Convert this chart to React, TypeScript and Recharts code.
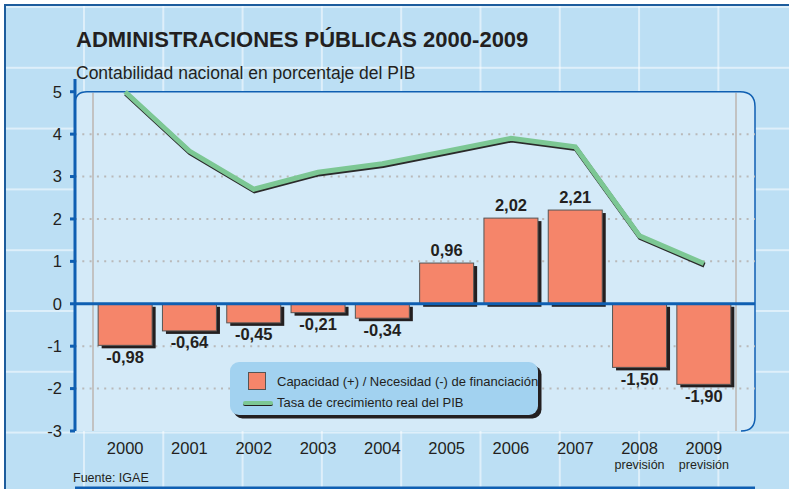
import React from 'react';
import { ComposedChart, Bar, Line, XAxis, YAxis, CartesianGrid, ReferenceArea, ReferenceLine, LabelList, Legend } from 'recharts';

// chart values
const years = ['2000', '2001', '2002', '2003', '2004', '2005', '2006', '2007', '2008', '2009'];
const yearNotes = ['', '', '', '', '', '', '', '', 'previsión', 'previsión'];
const balance = [-0.98, -0.64, -0.45, -0.21, -0.34, 0.96, 2.02, 2.21, -1.5, -1.9];
const gdpGrowth = [5.0, 3.6, 2.7, 3.1, 3.3, 3.6, 3.9, 3.7, 1.6, 0.95];
const yTicks = [-3, -2, -1, 0, 1, 2, 3, 4, 5];
const gridValues = [-2, -1, 1, 2, 3, 4];
const edgeTicks = [0, 1, 2, 3, 4, 5, 6, 7, 8, 9, 10];
const legendLabels = ['Capacidad (+) / Necesidad (-) de financiación', 'Tasa de crecimiento real del PIB'];

const data = years.map((year, i) => ({ year, balance: balance[i], growth: gdpGrowth[i] }));

const FONT = '"Liberation Sans", Arial, Helvetica, sans-serif';
const TEXT = '#231f20';
const BLUE = '#0f5fb2';
const BAR = '#f5856a';
const GREEN = '#7cc794';
const PANEL = '#d4eaf8';
const OUTER = '#bcdff4';
const LEGEND_BG = '#a2d2f0';
const PAD = { left: 18, right: 19 };

const fmt = (v: number) => v.toFixed(2).replace('.', ',');

const BarWithShadow = (props: any) => {
  const { x, y, width, height } = props;
  const top = Math.min(y, y + height);
  const h = Math.abs(height);
  return (
    <g>
      <rect x={x + 3.5} y={top + 3} width={width} height={h} fill={TEXT} />
      <rect x={x} y={top} width={width} height={h} fill={BAR} stroke="#555" strokeWidth={1} />
    </g>
  );
};

const ValueLabel = (props: any) => {
  const box = props.viewBox && props.viewBox.width != null ? props.viewBox : props;
  const { x, y, width, height } = box;
  const v = balance[props.index];
  const top = Math.min(y, y + height);
  const bottom = Math.max(y, y + height);
  const ty = v >= 0 ? top - 7 : bottom + 17.5;
  return (
    <text x={x + width / 2} y={ty} textAnchor="middle" fontSize={16.5} fontWeight="bold" fill={TEXT} fontFamily={FONT}>
      {fmt(v)}
    </text>
  );
};

const YearTick = (props: any) => {
  const { x, y, payload, index } = props;
  const i = payload && payload.index != null ? payload.index : index;
  return (
    <g>
      <text x={x} y={y} dy={23} textAnchor="middle" fontSize={16.5} fill={TEXT} fontFamily={FONT}>
        {payload.value}
      </text>
      {yearNotes[i] ? (
        <text x={x} y={y} dy={37.5} textAnchor="middle" fontSize={12.5} fill={TEXT} fontFamily={FONT}>
          {yearNotes[i]}
        </text>
      ) : null}
    </g>
  );
};

const EmptyTick = () => <g />;

// light panel behind the plot: rounded corners, blue edge on top and right,
// grey rules where the first and last category bands start / end
const Panel = (props: any) => {
  const { x, y, width, height } = props;
  const l = x - PAD.left, t = y, r = x + width + PAD.right, b = y + height;
  const r1 = 12, r2 = 15, r3 = 14;
  const fillPath = `M${l},${b} L${l},${t + r1} Q${l},${t} ${l + r1},${t} L${r - r2},${t} Q${r},${t} ${r},${t + r2} L${r},${b - r3} Q${r},${b} ${r - r3},${b} Z`;
  const edgePath = `M${l},${t + r1} Q${l},${t} ${l + r1},${t} L${r - r2},${t} Q${r},${t} ${r},${t + r2} L${r},${b - r3} Q${r},${b} ${r - r3},${b}`;
  return (
    <g>
      <path d={fillPath} fill={PANEL} />
      <line x1={x} y1={t + 1} x2={x} y2={b} stroke="#c2c2c2" strokeWidth={2} />
      <line x1={x + width} y1={t + 1} x2={x + width} y2={b} stroke="#c2c2c2" strokeWidth={2} />
      <path d={edgePath} fill="none" stroke={BLUE} strokeWidth={1.5} />
    </g>
  );
};

const LegendBox = () => (
  <div style={{ position: 'relative', width: 308, height: 53, background: LEGEND_BG, borderRadius: 9, boxShadow: `3.5px 3.5px 0 ${TEXT}`, fontFamily: FONT, fontSize: 13, color: TEXT, lineHeight: 1 }}>
    <div style={{ position: 'absolute', left: 18, top: 10, width: 16, height: 16, background: BAR, border: '1px solid #555' }} />
    <div style={{ position: 'absolute', left: 47, top: 12.5, whiteSpace: 'nowrap' }}>{legendLabels[0]}</div>
    <div style={{ position: 'absolute', left: 13, top: 38.5, width: 30, height: 4, background: GREEN, borderRadius: 2, borderBottom: `1px solid ${TEXT}` }} />
    <div style={{ position: 'absolute', left: 47, top: 34, whiteSpace: 'nowrap' }}>{legendLabels[1]}</div>
  </div>
);

export default function App() {
  return (
    <div style={{ position: 'absolute', left: 0, top: 0, width: 789, height: 489, background: '#fff', overflow: 'hidden', fontFamily: FONT }}>
      <div
        style={{
          position: 'absolute',
          left: 4,
          top: 4,
          width: 790,
          height: 490,
          borderTop: '2px solid #1d5c9c',
          borderLeft: '2px solid #1d5c9c',
          backgroundColor: OUTER,
          backgroundImage:
            'linear-gradient(to right, rgba(255,255,255,0.5) 0, rgba(255,255,255,0.5) 1.5px, transparent 1.5px), linear-gradient(to bottom, rgba(255,255,255,0.5) 0, rgba(255,255,255,0.5) 1.5px, transparent 1.5px)',
          backgroundSize: '79.3px 60.8px',
          backgroundPosition: '-2.3px 0px',
        }}
      />
      <div style={{ position: 'absolute', left: 76, top: 28.5, fontSize: 22, fontWeight: 'bold', lineHeight: 1, color: TEXT, whiteSpace: 'nowrap' }}>
        ADMINISTRACIONES PÚBLICAS 2000-2009
      </div>
      <div style={{ position: 'absolute', left: 76, top: 65, fontSize: 17.5, lineHeight: 1, color: TEXT, whiteSpace: 'nowrap' }}>
        Contabilidad nacional en porcentaje del PIB
      </div>
      <div style={{ position: 'absolute', left: 73, top: 471.5, fontSize: 12.5, lineHeight: 1, color: TEXT, whiteSpace: 'nowrap' }}>
        Fuente: IGAE
      </div>
      <div style={{ position: 'absolute', left: 0, top: 0 }}>
        <ComposedChart width={789} height={489} data={data} margin={{ top: 79, right: 34, left: 0, bottom: 0 }} barCategoryGap="8%">
          <ReferenceArea xAxisId="edge" y1={-3} y2={5} shape={<Panel />} zIndex={-200} />
          <CartesianGrid
            xAxisId="edge"
            vertical={false}
            horizontalValues={gridValues}
            stroke="#b9b9b9"
            strokeWidth={2}
            strokeDasharray="2 5.3"
            zIndex={-100}
          />
          <XAxis
            xAxisId="edge"
            type="number"
            domain={[0, 10]}
            ticks={edgeTicks}
            interval={0}
            padding={PAD}
            height={1}
            tick={EmptyTick}
            tickSize={4}
            axisLine={{ stroke: BLUE, strokeWidth: 3 }}
            tickLine={{ stroke: BLUE, strokeWidth: 3 }}
          />
          <XAxis
            xAxisId="cat"
            dataKey="year"
            interval={0}
            padding={PAD}
            height={57}
            axisLine={false}
            tickLine={false}
            tickSize={0}
            tickMargin={0}
            tick={<YearTick />}
          />
          <YAxis
            domain={[-3, 5.3]}
            ticks={yTicks}
            interval={0}
            width={75}
            tickSize={5}
            tickMargin={8}
            axisLine={{ stroke: BLUE, strokeWidth: 3 }}
            tickLine={{ stroke: BLUE, strokeWidth: 3 }}
            tick={{ fontSize: 16.5, fill: TEXT, fontFamily: FONT }}
          />
          <Bar xAxisId="cat" dataKey="balance" name={legendLabels[0]} shape={<BarWithShadow />} isAnimationActive={false}>
            <LabelList dataKey="balance" content={<ValueLabel />} />
          </Bar>
          <Line
            xAxisId="cat"
            dataKey="growth"
            stroke="#2a2a2a"
            strokeWidth={5}
            dot={false}
            activeDot={false}
            legendType="none"
            transform="translate(0.7,1.6)"
            isAnimationActive={false}
          />
          <Line xAxisId="cat" dataKey="growth" name={legendLabels[1]} stroke={GREEN} strokeWidth={5} dot={false} activeDot={false} isAnimationActive={false} />
          <ReferenceLine xAxisId="edge" y={0} stroke={BLUE} strokeWidth={3} zIndex={450} />
          <Legend
            layout="vertical"
            align="center"
            verticalAlign="middle"
            content={<LegendBox />}
            wrapperStyle={{ left: 230, top: 362, width: 'auto', height: 'auto' }}
          />
        </ComposedChart>
      </div>
    </div>
  );
}
